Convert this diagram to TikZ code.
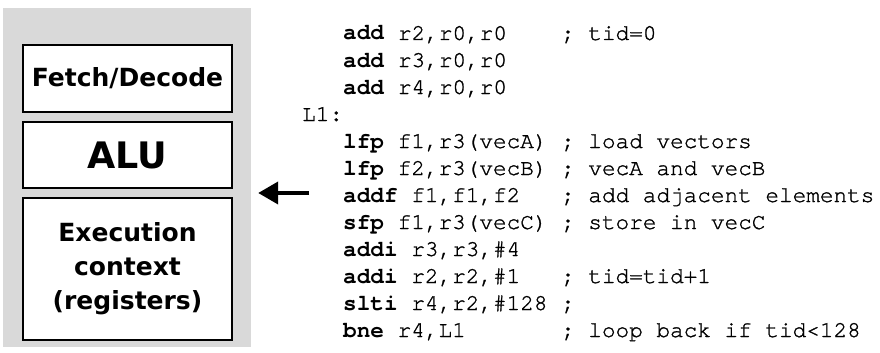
\documentclass[tikz,border=0pt]{standalone}
\usepackage{fontspec}
\setmainfont{DejaVu Sans}
\setmonofont{texgyrecursor}[Extension=.otf, UprightFont=*-regular, BoldFont=*-bold,
  UprightFeatures={FakeBold=1.2}]
\usetikzlibrary{arrows.meta,positioning}
\definecolor{coreGray}{RGB}{217,217,217}

\tikzset{
  unitbox/.style={draw=black, line width=1.6pt, fill=white, minimum width=209pt,
    inner sep=0pt, align=center, font=\fontsize{25}{34}\selectfont\bfseries},
  codeline/.style={anchor=base west, inner sep=0pt, font=\fontsize{22.7}{27}\selectfont\ttfamily},
  issuearrow/.style={line width=4pt, -{Triangle[length=20pt,width=22pt]}},
}

\begin{document}
\begin{tikzpicture}[x=1pt,y=-1pt]
  \useasboundingbox (0,0) rectangle (880,353);
  % core: fetch, alu, context
  \node[fill=coreGray, minimum width=248pt, minimum height=339pt, inner sep=0pt] (core) at (127,177.5) {};
  \node[unitbox, minimum height=67pt] (fetch) at (127.5,78.5) {Fetch/Decode};
  \node[unitbox, minimum height=66pt, font=\fontsize{36.5}{40}\selectfont\bfseries] (alu) at (127.5,155) {ALU};
  \node[unitbox, minimum height=142pt] (ctx) at (127.5,269) {Execution\\context\\(registers)};

  % kernel code, one row every 27pt
  \node[codeline] (lbl) at (302,{33+27*3+7}) {L1:};
  \foreach \r/\mn/\ops in {0/add/{r2,r0,r0}, 1/add/{r3,r0,r0}, 2/add/{r4,r0,r0},
      4/lfp/{f1,r3(vecA)}, 5/lfp/{f2,r3(vecB)}, 6/addf/{f1,f1,f2}, 7/sfp/{f1,r3(vecC)},
      8/addi/{r3,r3,\#4}, 9/addi/{r2,r2,\#1}, 10/slti/{r4,r2,\#128}, 11/bne/{r4,L1}} {
    \pgfmathsetmacro{\y}{33+27*\r+7}
    \node[codeline] (op\r) at (343,\y) {\textbf{\mn} \ops};
  }
  \foreach \r/\cmt in {0/{tid=0}, 4/{load vectors}, 5/{vecA and vecB}, 6/{add adjacent elements},
      7/{store in vecC}, 9/{tid=tid+1}, 10/{}, 11/{loop back if tid<128}} {
    \pgfmathsetmacro{\y}{33+27*\r+7}
    \node[codeline] (cm\r) at (343+16*13.62,\y) {; \cmt};
  }

  % issue arrow
  \coordinate (src) at (309,193);
  \draw[issuearrow, shorten >=7pt] (src) -- (src -| core.east);
\end{tikzpicture}
\end{document}
